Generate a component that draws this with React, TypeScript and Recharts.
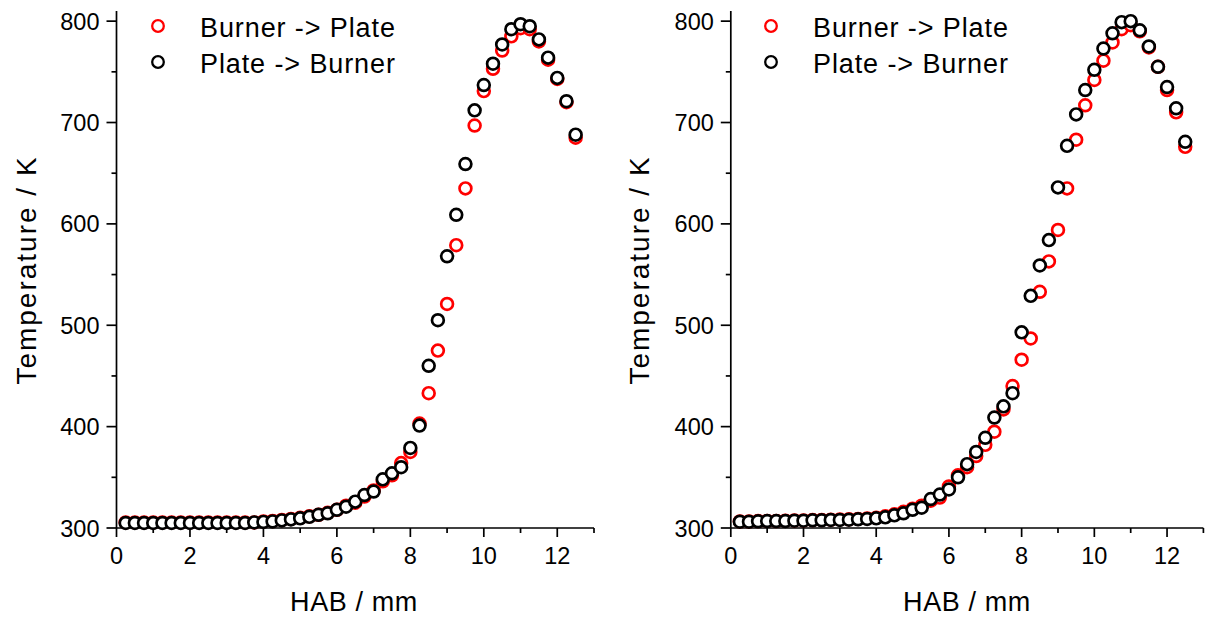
import { ScatterChart, Scatter, XAxis, YAxis } from "recharts";

// HAB positions (mm)
const hab = [
  0.25, 0.5, 0.75, 1, 1.25, 1.5, 1.75, 2, 2.25, 2.5, 2.75, 3, 3.25, 3.5, 3.75,
  4, 4.25, 4.5, 4.75, 5, 5.25, 5.5, 5.75, 6, 6.25, 6.5, 6.75, 7, 7.25, 7.5, 7.75,
  8, 8.25, 8.5, 8.75, 9, 9.25, 9.5, 9.75, 10, 10.25, 10.5, 10.75, 11, 11.25,
  11.5, 11.75, 12, 12.25, 12.5,
];

// left panel
const burnerToPlateL = [
  305.5, 305.5, 305.5, 305.5, 305.5, 305.5, 305.5, 305.5, 305.5, 305.5, 305.5,
  305.5, 305.5, 305.5, 305.5, 306.5, 307, 308, 309, 310, 311.5, 313, 315, 318,
  322, 325, 331, 337, 346, 352, 364, 375, 403, 433, 475, 521, 579, 635, 697,
  731, 753, 771, 785, 793, 792, 780, 762, 743, 720, 685,
];
const plateToBurnerL = [
  305, 305, 305, 305, 305, 305, 305, 305, 305, 305, 305, 305, 305, 305, 305.5,
  306, 306.5, 307.5, 308.5, 309.5, 311, 313, 314.5, 318, 321, 326, 332.5, 336,
  348, 354, 360, 379, 401, 460, 505, 568, 609, 659, 712, 737, 758, 777, 792,
  797, 795, 782, 764, 744, 721, 688,
];

// right panel
const burnerToPlateR = [
  306.5, 306.5, 306.8, 307, 307, 307.2, 307.4, 307.5, 307.8, 308, 308.2, 308.4,
  308.6, 309, 309.4, 310, 311.5, 313.5, 316, 319, 322, 327, 330, 341, 352, 360,
  371, 382, 395, 417, 440, 466, 487, 533, 563, 594, 635, 683, 717, 742, 761,
  779, 792, 796, 790, 774, 755, 732, 710, 676,
];
const plateToBurnerR = [
  306.2, 306.2, 306.6, 306.9, 306.9, 306.9, 307.2, 307.2, 307.6, 307.6, 307.9,
  307.9, 308.2, 308.6, 308.9, 309.5, 310.5, 312.5, 314.5, 318, 320, 328.6, 333,
  338, 350, 363, 375, 389, 409, 420, 433, 493, 529, 559, 584, 636, 677, 708,
  732, 752, 773, 788, 799, 800, 791, 775, 755, 735, 714, 681,
];

const xTicks = [0, 1, 2, 3, 4, 5, 6, 7, 8, 9, 10, 11, 12, 13];
const yTicks = [300, 350, 400, 450, 500, 550, 600, 650, 700, 750, 800];

const FONT = "'Liberation Sans', Arial, sans-serif";

const toPoints = (ys: number[]) => hab.map((x, i) => ({ x, y: ys[i] }));

function XTick(props: any) {
  const { x, y, payload } = props;
  const major = payload.value % 2 === 0;
  return (
    <g>
      <line x1={x} y1={y} x2={x} y2={y + (major ? 9 : 5)} stroke="#000" strokeWidth={1.7} />
      {major && (
        <text x={x} y={y + 36} textAnchor="middle" fontSize={23.5} fontFamily={FONT} fill="#000">
          {payload.value}
        </text>
      )}
    </g>
  );
}

function YTick(props: any) {
  const { x, y, payload } = props;
  const major = payload.value % 100 === 0;
  return (
    <g>
      <line x1={x} y1={y} x2={x - (major ? 10 : 5)} y2={y} stroke="#000" strokeWidth={1.7} />
      {major && (
        <text x={x - 17} y={y + 8.5} textAnchor="end" fontSize={23.5} fontFamily={FONT} fill="#000">
          {payload.value}
        </text>
      )}
    </g>
  );
}

const ring = (color: string) => (props: any) =>
  <circle cx={props.cx} cy={props.cy} r={5.9} fill="#fff" stroke={color} strokeWidth={2.7} />;

function Panel({ red, black, yAxisWidth, right }: {
  red: number[]; black: number[]; yAxisWidth: number; right: number;
}) {
  return (
    <ScatterChart width={600} height={617} margin={{ top: 11, right, bottom: 0, left: 0 }}>
      <XAxis
        type="number"
        dataKey="x"
        domain={[0, 13]}
        ticks={xTicks}
        interval={0}
        height={89}
        tickSize={0}
        tickMargin={0}
        axisLine={{ stroke: "#000", strokeWidth: 1.7 }}
        tick={<XTick />}
      />
      <YAxis
        type="number"
        dataKey="y"
        domain={[300, 810]}
        ticks={yTicks}
        interval={0}
        width={yAxisWidth}
        tickSize={0}
        tickMargin={0}
        axisLine={{ stroke: "#000", strokeWidth: 1.7 }}
        tick={<YTick />}
      />
      <Scatter data={toPoints(red)} shape={ring("#ff0000")} isAnimationActive={false} />
      <Scatter data={toPoints(black)} shape={ring("#000000")} isAnimationActive={false} />
    </ScatterChart>
  );
}

function Labels({ dx }: { dx: number }) {
  const t = { fontFamily: FONT, fill: "#000" };
  return (
    <g>
      <circle cx={158 + dx} cy={26} r={5.8} fill="none" stroke="#ff0000" strokeWidth={2.3} />
      <circle cx={158 + dx} cy={62} r={5.8} fill="none" stroke="#000" strokeWidth={2.3} />
      <text x={200 + dx} y={36.5} fontSize={27} letterSpacing={0.9} {...t}>Burner -&gt; Plate</text>
      <text x={200 + dx} y={72.5} fontSize={27} letterSpacing={0.9} {...t}>Plate -&gt; Burner</text>
      <text x={354 + dx} y={611} fontSize={27} letterSpacing={0.6} textAnchor="middle" {...t}>HAB / mm</text>
      <text
        transform={`translate(${36 + dx}, 270) rotate(-90)`}
        fontSize={28}
        letterSpacing={2}
        textAnchor="middle"
        {...t}
      >
        Temperature / K
      </text>
    </g>
  );
}

export default function App() {
  return (
    <div style={{ position: "absolute", left: 0, top: 0, width: 1205, height: 617, background: "#fff" }}>
      <div style={{ position: "absolute", left: 0, top: 0 }}>
        <Panel red={burnerToPlateL} black={plateToBurnerL} yAxisWidth={116.5} right={6} />
      </div>
      <div style={{ position: "absolute", left: 605, top: 0 }}>
        <Panel red={burnerToPlateR} black={plateToBurnerR} yAxisWidth={125.8} right={1.6} />
      </div>
      <svg
        width={1205}
        height={617}
        style={{ position: "absolute", left: 0, top: 0, pointerEvents: "none" }}
      >
        <Labels dx={0} />
        <Labels dx={613} />
      </svg>
    </div>
  );
}
